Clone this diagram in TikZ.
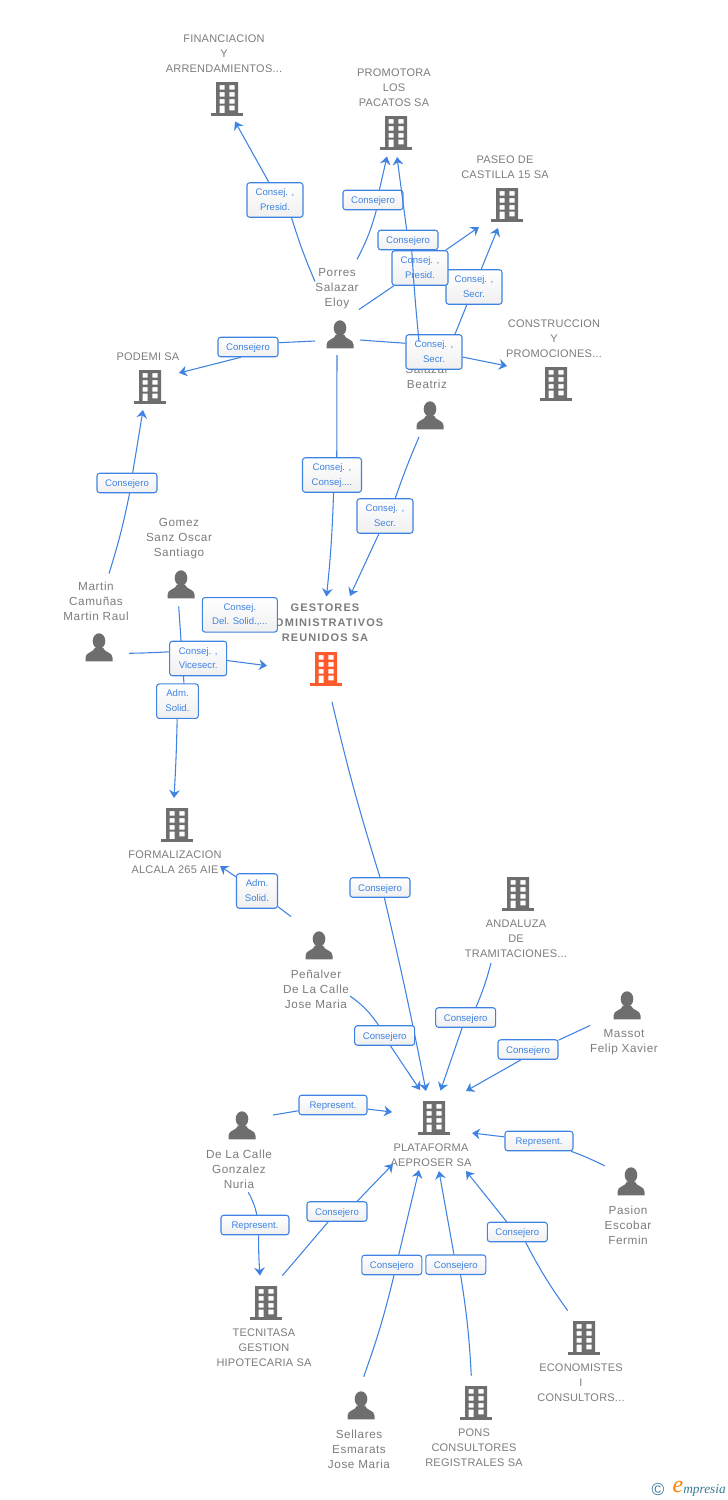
\documentclass[tikz,border=0pt]{standalone}
\usepackage{fontspec}
\setmainfont{Liberation Sans}
\newfontfamily\logofont{Liberation Serif}
\usetikzlibrary{arrows.meta,calc}
\definecolor{linkc}{HTML}{3F83E2}
\definecolor{icoc}{HTML}{6E6E6E}
\definecolor{namec}{HTML}{7C7C7C}
\definecolor{headc}{HTML}{FF5A2C}
\definecolor{logoc}{HTML}{3A7A96}
\tikzset{
	link/.style={draw=linkc,line width=.8pt},
	arr/.style={link,-{Stealth[length=6pt,width=8pt,inset=2pt]}},
	lbl/.style={draw=linkc,line width=.8pt,rounded corners=2pt,top color=white,bottom color=black!6,text=linkc,align=center,inner sep=0pt,font=\fontsize{7.2}{10.8}\selectfont,text height=5.5pt,text depth=0pt,minimum width=60*.75pt,minimum height=19.5*.75pt},
	lbltwo/.style={lbl,text height=15pt,text depth=0pt,minimum width=56*.75pt,minimum height=34.5*.75pt},
	nametxt/.style={text=namec,align=center,inner sep=0pt,yshift=-.75pt,font=\fontsize{8.25}{11.25}\selectfont\addfontfeature{LetterSpace=2}},
	perstxt/.style={nametxt,yshift=-.5pt,font=\fontsize{8.8}{11.25}\selectfont\addfontfeature{LetterSpace=5}},
	iconbox/.style={inner sep=0pt,minimum size=24pt},
}
\newcommand{\icobldg}[3][icoc]{%
	\node[iconbox] (#2) at (#3) {};
	\begin{scope}[shift={(#3)}]
		\fill[#1,even odd rule] (-11,-17) rectangle (11,14)
			(-7.5,-14) rectangle (-2.4,-9.3) (2.4,-14) rectangle (7.5,-9.3)
			(-7.5,-7) rectangle (-2.4,-2.3) (2.4,-7) rectangle (7.5,-2.3)
			(-7.5,0) rectangle (-2.4,4.5) (2.4,0) rectangle (7.5,4.5)
			(-7.5,6.7) rectangle (-2.4,14) (2.4,6.7) rectangle (7.5,11.3);
		\fill[#1] (-16,14) rectangle (16,16.5);
	\end{scope}
}
\newcommand{\icoperson}[2]{%
	\node[iconbox] (#1) at (#2) {};
	\begin{scope}[shift={(#2)}]
		\fill[icoc] (0,-6.5) ellipse[x radius=6.3,y radius=7.7];
		\fill[icoc] (-13.5,13.8) -- (-13.5,10) .. controls (-13.5,4.5) and (-5,5) .. (-4,0) -- (4,0) .. controls (5,5) and (13.5,4.5) .. (13.5,10) -- (13.5,13.8) -- cycle;
	\end{scope}
}
\begin{document}
\begin{tikzpicture}[x=.75pt,y=-.75pt]
	\useasboundingbox (0,0) rectangle (728,1500);
	% entities
	\icobldg{fin}{227,99}
	\node[nametxt] (finT) at (224,53) {FINANCIACION\\Y\\ARRENDAMIENTOS...};
	\icobldg{pro}{396,133}
	\node[nametxt] (proT) at (394,87) {PROMOTORA\\LOS\\PACATOS SA};
	\icobldg{pas}{507,205}
	\node[nametxt] (pasT) at (505,166.5) {PASEO DE\\CASTILLA 15 SA};
	\icobldg{con}{556,384}
	\node[nametxt] (conT) at (554,338) {CONSTRUCCION\\Y\\PROMOCIONES...};
	\icobldg{pod}{150,387}
	\node[nametxt] (podT) at (148,356) {PODEMI SA};
	\icoperson{por}{340,334.5}
	\node[perstxt] (porT) at (337,287) {Porres\\Salazar\\Eloy};
	\icoperson{bea}{430,415.5}
	\node[perstxt] (beaT) at (427,368) {Porres\\Salazar\\Beatriz};
	\icoperson{gom}{181,584.5}
	\node[perstxt] (gomT) at (179,537) {Gomez\\Sanz Oscar\\Santiago};
	\icoperson{mar}{99,647.5}
	\node[perstxt] (marT) at (96,600) {Martin\\Camuñas\\Martin Raul};
	\icobldg[headc]{ges}{326,669}
	\node[nametxt,font=\fontsize{8.25}{11.25}\selectfont\bfseries\addfontfeature{LetterSpace=10}] (gesT) at (325,622) {GESTORES\\ADMINISTRATIVOS\\REUNIDOS SA};
	\icobldg{frm}{177,825}
	\node[nametxt] (frmT) at (175,861.5) {FORMALIZACION\\ALCALA 265 AIE};
	\icoperson{pen}{319,945.5}
	\node[perstxt] (penT) at (316,988) {Peñalver\\De La Calle\\Jose Maria};
	\icobldg{and}{518,894}
	\node[nametxt] (andT) at (516,938) {ANDALUZA\\DE\\TRAMITACIONES...};
	\icoperson{mas}{627,1005.5}
	\node[perstxt] (masT) at (624,1040.5) {Massot\\Felip Xavier};
	\icobldg{pla}{434,1118}
	\node[nametxt] (plaT) at (431,1154.5) {PLATAFORMA\\AEPROSER SA};
	\icoperson{cal}{242,1125.5}
	\node[perstxt] (calT) at (239,1168) {De La Calle\\Gonzalez\\Nuria};
	\icoperson{psn}{631,1181.5}
	\node[perstxt] (psnT) at (628,1224) {Pasion\\Escobar\\Fermin};
	\icobldg{tec}{266,1303}
	\node[nametxt] (tecT) at (264,1347) {TECNITASA\\GESTION\\HIPOTECARIA SA};
	\icobldg{eco}{584,1338}
	\node[nametxt] (ecoT) at (581,1382) {ECONOMISTES\\I\\CONSULTORS...};
	\icoperson{sel}{361,1405.5}
	\node[perstxt] (selT) at (359,1448) {Sellares\\Esmarats\\Jose Maria};
	\icobldg{pon}{476,1403}
	\node[nametxt] (ponT) at (474,1447) {PONS\\CONSULTORES\\REGISTRALES SA};
	% connectors of the upper group
	\node[lbltwo] (lFin) at (275,200) {Consej. ,\\Presid.};
	\draw[link] ($(por)+(-25,-53)$) to[bend left=3] (lFin.-47);
	\draw[arr] (lFin.109) to ($(fin)+(8,22.5)$);
	\node[lbl] (lPro) at (373,200) {Consejero};
	\draw[link] ($(por)+(17,-75)$) to[bend right=6] (lPro.-72);
	\draw[arr] (lPro.58) to ($(pro)+(-9,23.5)$);
	\node[lbltwo] (lPasB) at (474,287) {Consej. ,\\Secr.};
	\draw[link] ($(bea)+(18,-64)$) to (lPasB);
	\draw[arr] (lPasB) to ($(pas)+(-9,23)$);
	\node[lbltwo] (lCon) at (434,352) {Consej. ,\\Secr.};
	\draw[link] ($(por)+(20,5.5)$) to (lCon.163);
	\draw[arr] (lCon.-10) to ($(con)+(-49,-18)$);
	\node[lbltwo] (lPas) at (420,268) {Consej. ,\\Presid.};
	\draw[link] ($(por)+(19,-25)$) to (lPas);
	\draw[arr] (lPas) to ($(pas)+(-28,22)$);
	\node[lbl] (lProB) at (408,240) {Consejero};
	\draw[link] ($(bea)+(-11,-74)$) to[bend left=1] (lProB.-70);
	\draw[arr] (lProB) to ($(pro)+(1,24)$);
	\node[lbl] (lPod) at (248,347) {Consejero};
	\draw[link] ($(por)+(-25,6.5)$) to (lPod.8);
	\draw[arr] (lPod.-125) to ($(pod)+(29,-14)$);
	\node[lbltwo,minimum width=59*.75pt] (lGes) at (332,475) {Consej. ,\\Consej....};
	\draw[link] ($(por)+(-3,20.5)$) to (lGes.75);
	\draw[arr] (lGes.-85) to[bend left=2] ($(ges)+(.5,-72.5)$);
	\node[lbltwo] (lGesB) at (385,516) {Consej. ,\\Secr.};
	\draw[link] ($(bea)+(-11,21.5)$) to[bend right=2] (lGesB.60);
	\draw[arr] (lGesB.-109) to ($(ges)+(24,-73)$);
	% connectors of the left group
	\node[lbl] (lPodB) at (127,483) {Consejero};
	\draw[link] ($(mar)+(10,-74)$) to[bend right=3] (lPodB.-76);
	\draw[arr] (lPodB.61) to ($(pod)+(-7,23)$);
	\node[lbltwo,minimum width=75*.75pt] (lDel) at (239.8,614.8) {Consej.\\Del. Solid.,...};
	\node[lbltwo,minimum width=41.7*.75pt] (lFrm) at (177.5,701.2) {Adm.\\Solid.};
	\draw[link] ($(gom)+(-2.3,22)$) to (lFrm.70);
	\draw[arr] (lFrm) to[bend left=1] ($(frm)+(-3,-27)$);
	\node[lbltwo,minimum width=57*.75pt] (lGesC) at (198.2,658.5) {Consej. ,\\Vicesecr.};
	\draw[link] ($(mar)+(30,5.8)$) to[bend right=1] (lGesC.167);
	\draw[arr] (lGesC.-4) to ($(ges)+(-59,-3.3)$);
	% connectors of the lower group
	\node[lbl] (lPla) at (380,887.5) {Consejero};
	\draw[link] ($(ges)+(6,33)$) to[bend right=2] (lPla.90);
	\draw[arr] (lPla.-67) to[bend left=1] ($(pla)+(-8,-27)$);
	\node[lbltwo,minimum width=41*.75pt] (lFrmB) at (257,891) {Adm.\\Solid.};
	\draw[link] ($(pen)+(-28,-29)$) to (lFrmB);
	\draw[arr] (lFrmB) to ($(frm)+(43,41)$);
	\node[lbl] (lPlaB) at (384.7,1035.5) {Consejero};
	\draw[link] ($(pen)+(31,50.5)$) to[bend left=10] (lPlaB.121);
	\draw[arr] (lPlaB.-61) to ($(pla)+(-14,-28)$);
	\node[lbl] (lPlaC) at (465.7,1017.5) {Consejero};
	\draw[link] ($(and)+(-27,69)$) to[bend left=4] (lPlaC.45);
	\draw[arr] (lPlaC) to ($(pla)+(6.5,-27.5)$);
	\node[lbl] (lPlaD) at (528,1049.5) {Consejero};
	\draw[link] ($(mas)+(-37,20)$) to (lPlaD.17.5);
	\draw[arr] (lPlaD.-124) to ($(pla)+(32,-27)$);
	\node[lbl,minimum width=68*.75pt] (lPlaE) at (333,1105) {Represent.};
	\draw[link] ($(cal)+(31,-10.5)$) to (lPlaE);
	\draw[arr] (lPlaE) to ($(pla)+(-42,-6)$);
	\node[lbl,minimum width=68*.75pt] (lPlaF) at (539,1141) {Represent.};
	\draw[link] ($(psn)+(-26,-15.5)$) to[bend right=3] (lPlaF);
	\draw[arr] (lPlaF) to ($(pla)+(38,15)$);
	\node[lbl,minimum width=68*.75pt] (lTec) at (255,1225) {Represent.};
	\draw[link] ($(cal)+(6.3,66.8)$) to[bend left=8] (lTec.80);
	\draw[arr] (lTec.-71) to[bend right=2] ($(tec)+(-6,-27.5)$);
	\node[lbl] (lPlaG) at (337,1211.5) {Consejero};
	\draw[link] ($(tec)+(16.3,-27.3)$) to (lPlaG);
	\draw[arr] (lPlaG.27) to ($(pla)+(-41,46)$);
	\node[lbl] (lPlaH) at (391.8,1265) {Consejero};
	\draw[link] ($(sel)+(2.7,-28.8)$) to[bend right=3] (lPlaH.-78);
	\draw[arr] (lPlaH.56) to ($(pla)+(-15,52)$);
	\node[lbl] (lPlaI) at (455.8,1264.7) {Consejero};
	\draw[link] ($(pon)+(-4.7,-27.3)$) to[bend right=3] (lPlaI.-65);
	\draw[arr] (lPlaI) to ($(pla)+(5,53)$);
	\node[lbl] (lPlaJ) at (517.3,1232) {Consejero};
	\draw[link] ($(eco)+(-16.3,-27.3)$) to[bend left=4] (lPlaJ.-51);
	\draw[arr] (lPlaJ.136) to ($(pla)+(32,53)$);
	% logo
	\node[inner sep=0pt,text=logoc,font=\fontsize{13}{13}\selectfont] (cpr) at (658,1489) {©};
	\node[inner sep=0pt,text=orange,font=\fontsize{18}{18}\logofont\itshape] (logoE) at (678,1487) {e};
	\node[inner sep=0pt,text=logoc,font=\fontsize{10}{10}\logofont\itshape,anchor=base west] (logoT) at (683,1493) {mpresia};
\end{tikzpicture}
\end{document}
